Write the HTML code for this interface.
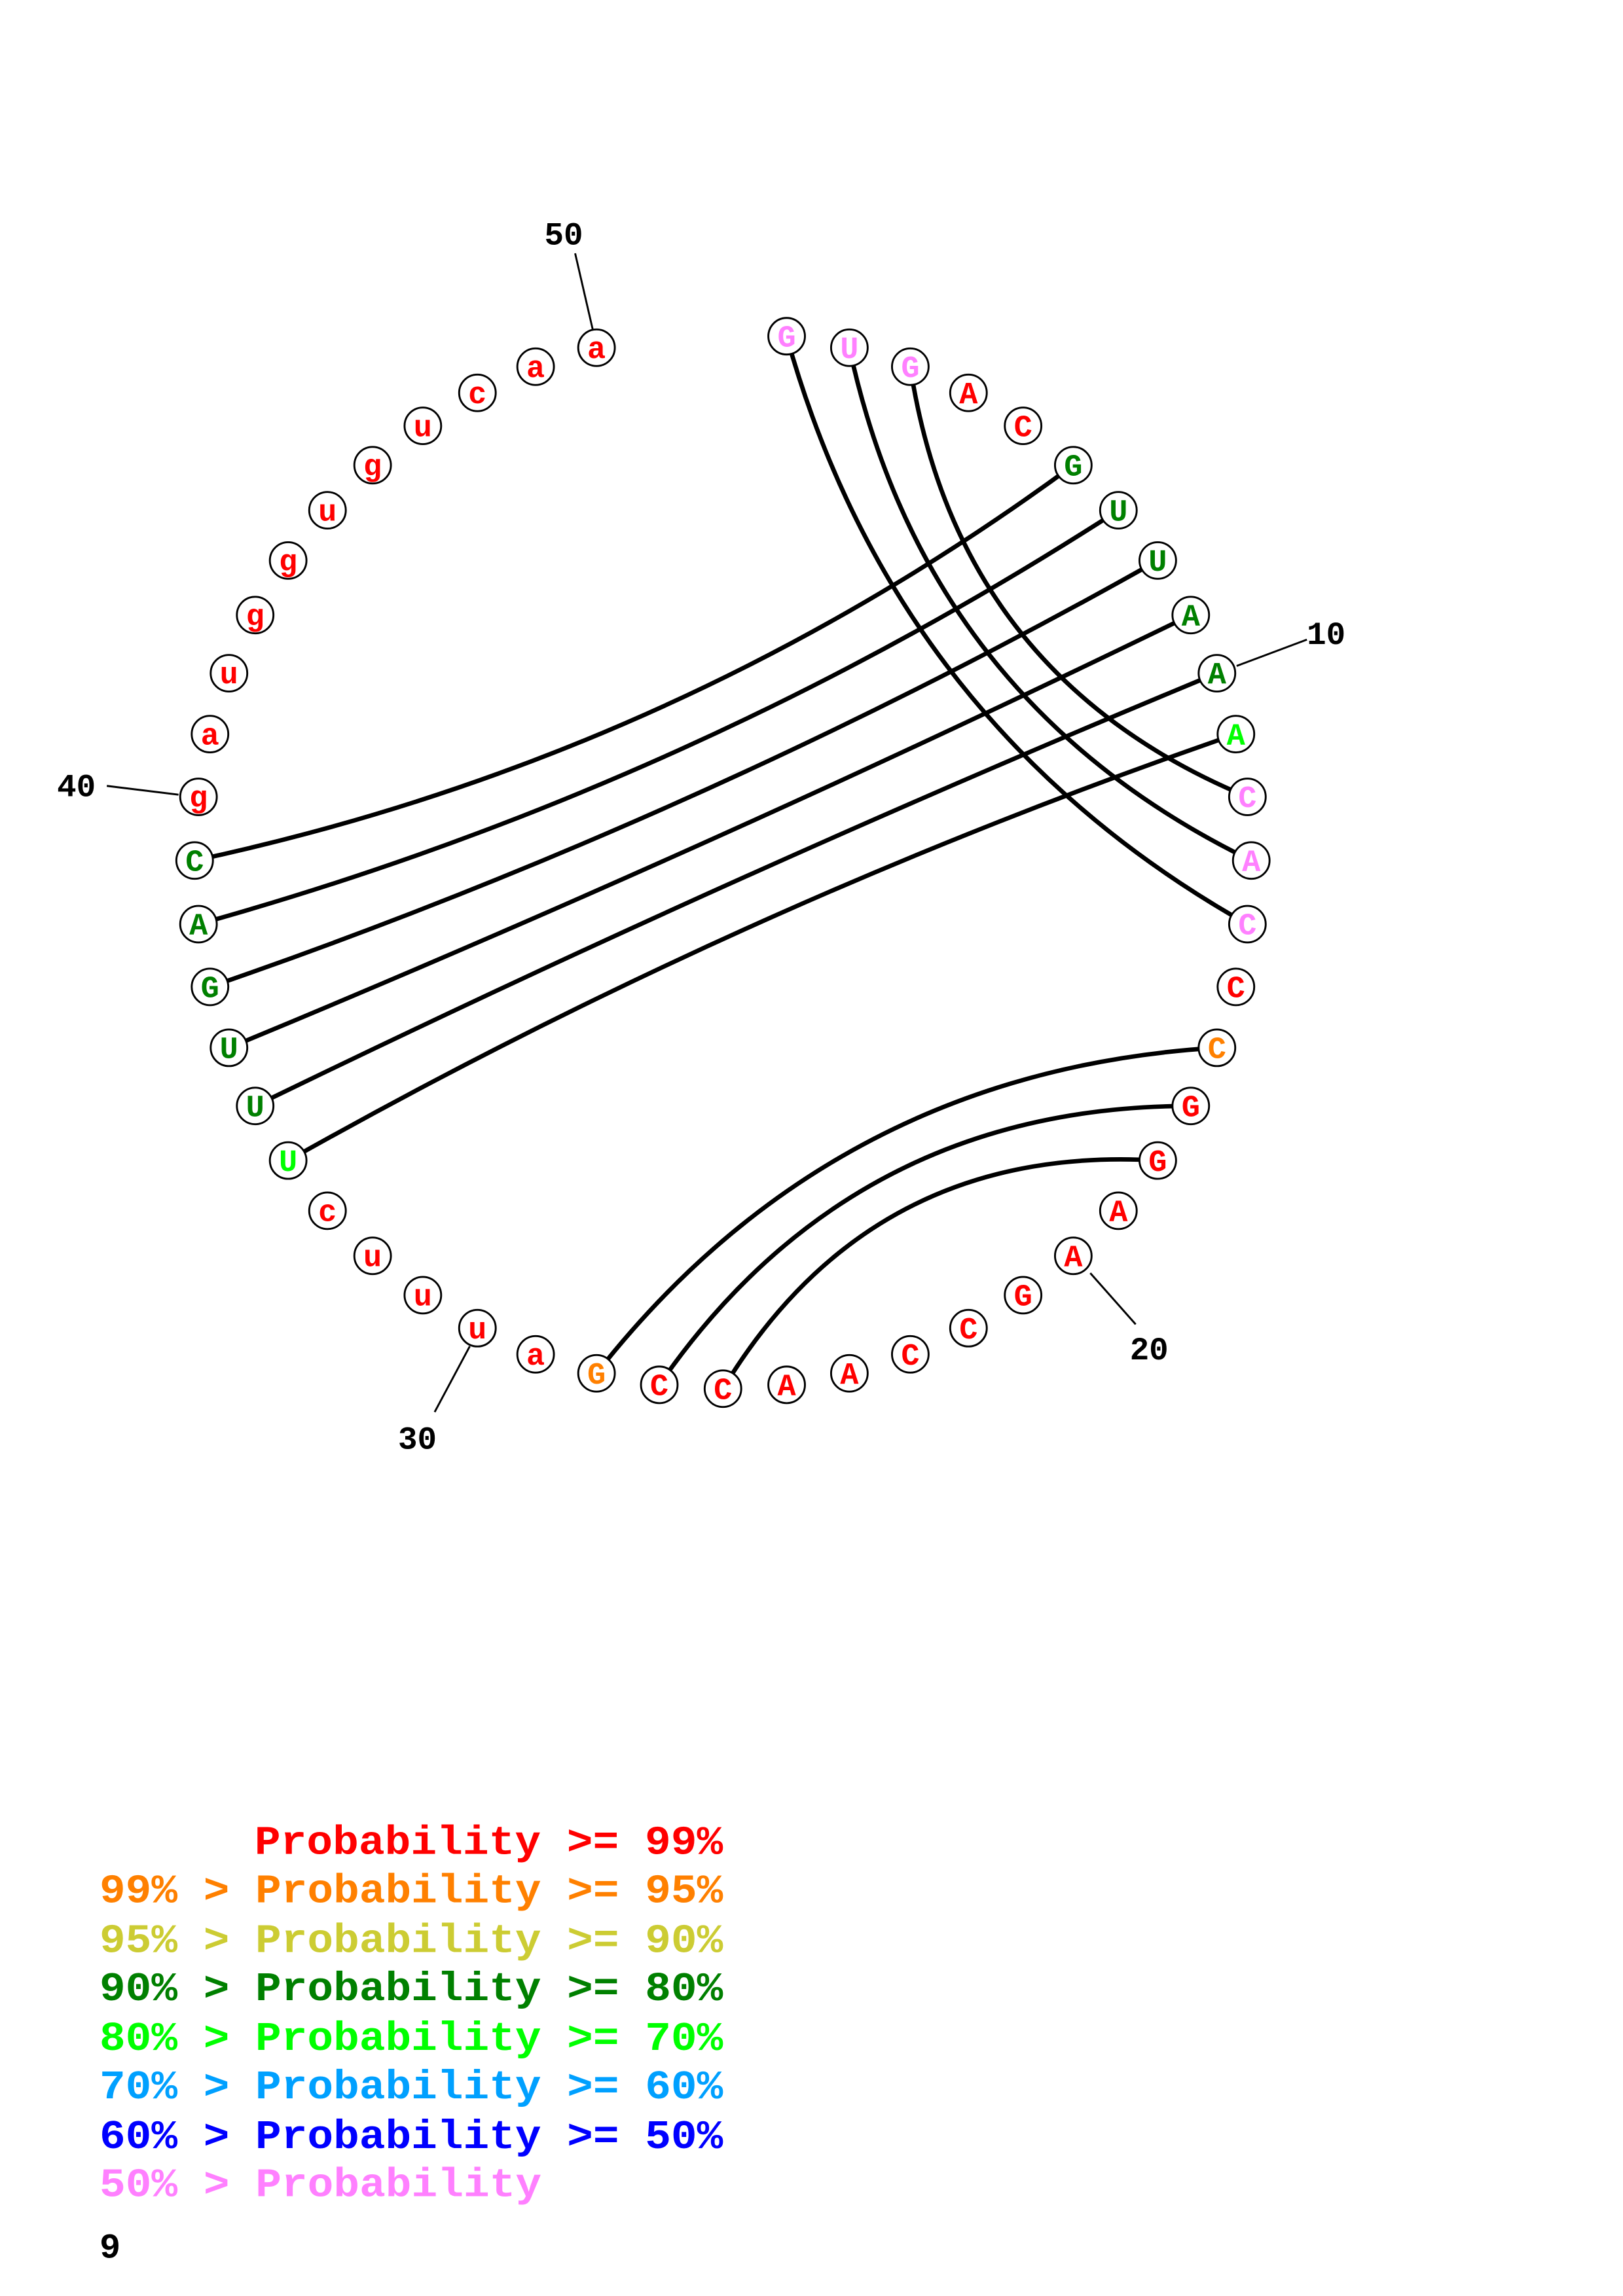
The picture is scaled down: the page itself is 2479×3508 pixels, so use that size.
<!DOCTYPE html>
<html><head><meta charset="utf-8"><style>
html,body{margin:0;padding:0;background:#fff}
svg{display:block}
text{font-family:"Liberation Mono","DejaVu Sans Mono",monospace;font-weight:bold}
</style></head><body>
<svg id="s" xmlns="http://www.w3.org/2000/svg" width="2479" height="3508" viewBox="0 0 1109 1569">
<rect width="1109" height="1569" fill="#fff"/>
<g id="arcs" fill="none" stroke="#000" stroke-width="3"></g>
<g id="ticks" stroke="#000" stroke-width="1.3">
<line x1="845" y1="455" x2="893" y2="437"/>
<line x1="745" y1="870" x2="776" y2="905"/>
<line x1="321" y1="920" x2="297" y2="965"/>
<line x1="73" y1="537" x2="122" y2="543"/>
<line x1="393" y1="173" x2="405" y2="225"/>
</g>
<g font-size="22" fill="#000">
<text x="893" y="440">10</text>
<text x="772" y="929">20</text>
<text x="272" y="990">30</text>
<text x="39" y="544">40</text>
<text x="372" y="167">50</text>
</g>
<g id="nodes"></g>
<g font-size="28">
<text x="174" y="1267" fill="#ff0000" textLength="320" lengthAdjust="spacingAndGlyphs" xml:space="preserve">Probability &gt;= 99%</text>
<text x="68" y="1300" fill="#ff8000" textLength="426" lengthAdjust="spacingAndGlyphs" xml:space="preserve">99% &gt; Probability &gt;= 95%</text>
<text x="68" y="1334" fill="#cccc33" textLength="426" lengthAdjust="spacingAndGlyphs" xml:space="preserve">95% &gt; Probability &gt;= 90%</text>
<text x="68" y="1367" fill="#008000" textLength="426" lengthAdjust="spacingAndGlyphs" xml:space="preserve">90% &gt; Probability &gt;= 80%</text>
<text x="68" y="1401" fill="#00ff00" textLength="426" lengthAdjust="spacingAndGlyphs" xml:space="preserve">80% &gt; Probability &gt;= 70%</text>
<text x="68" y="1434" fill="#00a0ff" textLength="426" lengthAdjust="spacingAndGlyphs" xml:space="preserve">70% &gt; Probability &gt;= 60%</text>
<text x="68" y="1468" fill="#0000ff" textLength="426" lengthAdjust="spacingAndGlyphs" xml:space="preserve">60% &gt; Probability &gt;= 50%</text>
<text x="68" y="1501" fill="#ff80ff" textLength="302" lengthAdjust="spacingAndGlyphs" xml:space="preserve">50% &gt; Probability</text>
<text x="68" y="1543" fill="#000" font-size="24">9</text>
</g>
</svg>
<script>
(function(){
var NS="http://www.w3.org/2000/svg";
var cx=494,cy=588,R=361,step=360/52;
var seq="GUGACGUUAAACACCCGGAAGCCAACCGauuucUUUGACgauggugucaa";
var R_="#ff0000",O="#ff8000",DG="#008000",LG="#00ff00",P="#ff80ff";
var col=[P,P,P,R_,R_,DG,DG,DG,DG,DG,LG,P,P,P,R_,O,R_,R_,R_,R_,R_,R_,R_,R_,R_,R_,R_,O,R_,R_,R_,R_,R_,LG,DG,DG,DG,DG,DG,R_,R_,R_,R_,R_,R_,R_,R_,R_,R_,R_];
function ang(i){return (90+(i-26)*step)*Math.PI/180;}
function pos(i){var a=ang(i);return [cx+R*Math.cos(a),cy+R*Math.sin(a)];}
function unit(v){var l=Math.hypot(v[0],v[1]);return [v[0]/l,v[1]/l];}
function tangent(P,Q,f){
 var u=unit([cx-P[0],cy-P[1]]), v=unit([Q[0]-P[0],Q[1]-P[1]]);
 var au=Math.atan2(u[1],u[0]), av=Math.atan2(v[1],v[0]);
 var d=av-au; while(d>Math.PI)d-=2*Math.PI; while(d<-Math.PI)d+=2*Math.PI;
 var a=au+d*f; return [Math.cos(a),Math.sin(a)];
}
var pairs=[[6,39],[7,38],[8,37],[9,36],[10,35],[11,34],[1,14],[2,13],[3,12],[16,28],[17,27],[18,26]];
var arcs=document.getElementById("arcs");
pairs.forEach(function(p){
 var A=pos(p[0]),B=pos(p[1]);
 var ta=tangent(A,B,0.5), tb=tangent(B,A,0.5);
 // intersect A+s*ta and B+t*tb
 var det=ta[0]*(-tb[1])-ta[1]*(-tb[0]);
 var C;
 if(Math.abs(det)<1e-6){C=[(A[0]+B[0])/2,(A[1]+B[1])/2];}
 else{
  var rx=B[0]-A[0], ry=B[1]-A[1];
  var s=(rx*(-tb[1])-ry*(-tb[0]))/det;
  C=[A[0]+s*ta[0],A[1]+s*ta[1]];
 }
 var path=document.createElementNS(NS,"path");
 path.setAttribute("d","M"+A[0].toFixed(2)+","+A[1].toFixed(2)+" Q"+C[0].toFixed(2)+","+C[1].toFixed(2)+" "+B[0].toFixed(2)+","+B[1].toFixed(2));
 arcs.appendChild(path);
});
var g=document.getElementById("nodes");
for(var i=1;i<=50;i++){
 var q=pos(i);
 var c=document.createElementNS(NS,"circle");
 c.setAttribute("cx",q[0]);c.setAttribute("cy",q[1]);c.setAttribute("r",12.5);
 c.setAttribute("fill","#fff");c.setAttribute("stroke","#000");c.setAttribute("stroke-width","1.3");
 g.appendChild(c);
 var t=document.createElementNS(NS,"text");
 t.setAttribute("x",q[0]);t.setAttribute("y",q[1]+7);t.setAttribute("text-anchor","middle");
 t.setAttribute("font-size","21");t.setAttribute("fill",col[i-1]);
 t.textContent=seq[i-1];g.appendChild(t);
}
})();
</script>
</body></html>
